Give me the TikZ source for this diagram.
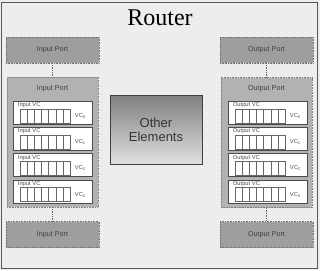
\documentclass[tikz,border=0pt]{standalone}
\usepackage{fontspec}
\setmainfont{Liberation Serif}
\setsansfont{Liberation Sans}
\begin{document}
\begin{tikzpicture}[x=1pt,y=-1pt,
  pfont/.style={font=\sffamily\fontsize{7.2}{8}\selectfont, text=black!75},
  port/.style={draw=black!55, densely dotted, line width=0.6pt, fill=black!38, inner sep=0pt,
    minimum width=93pt, minimum height=26pt, pfont},
  bigport/.style={draw=black!50, densely dotted, line width=0.6pt, fill=black!30, inner sep=0pt,
    minimum width=91pt, minimum height=130pt},
  vcbox/.style={draw=black!70, line width=0.6pt, fill=white, inner sep=0pt,
    minimum width=79pt, minimum height=23pt},
  cell/.style={draw=black!60, line width=0.4pt, fill=white},
  small/.style={font=\sffamily\fontsize{5.8}{6}\selectfont, text=black!70, inner sep=0pt},
  conn/.style={draw=black!60, densely dotted, line width=0.7pt}
]
\useasboundingbox (0,0) rectangle (320,270);
\fill[black!7] (0,0) rectangle (320,270);
\draw[black!65, line width=0.8pt] (1.5,2) rectangle (317.5,268.5);
\node[font=\fontsize{24}{26}\selectfont, inner sep=0pt] (title) at (160,18) {Router};

% input side
\node[port] (ipt) at (52.5,50) {Input Port};
\node[bigport] (ipb) at (52.5,142) {};
\node[port] (ipd) at (52.5,234.5) {Input Port};
\node[pfont, inner sep=0pt] (iplab) at (52.5,89) {Input Port};
\draw[conn] (ipt.south) -- (ipb.north);
\draw[conn] (ipb.south) -- (ipd.north);

% output side
\node[port] (opt) at (266.5,50) {Output Port};
\node[bigport] (opb) at (266.5,142.5) {};
\node[port] (opd) at (266.5,234.5) {Output Port};
\node[pfont, inner sep=0pt] (oplab) at (266.5,89) {Output Port};
\draw[conn] (opt.south) -- (opb.north);
\draw[conn] (opb.south) -- (opd.north);

% VC boxes
\foreach \i/\y in {0/112.5,1/138.8,2/165.1,3/191.4}{
  \foreach \side/\cx/\txt in {i/52.5/Input VC, o/267.5/Output VC}{
    \node[vcbox] (\side vc\i) at (\cx,\y) {};
    \node[small, anchor=north west] (\side vt\i) at ([xshift=5pt,yshift=-1.5pt]\side vc\i.north west) {\txt};
    \foreach \k in {0,...,6}{
      \draw[cell] ([xshift={7pt+\k*7.2pt},yshift=-8pt]\side vc\i.north west) rectangle ++(7.2,14);
    }
    \node[small, anchor=west] (\side vl\i) at ([xshift=62pt,yshift=-15pt]\side vc\i.north west) {VC\textsubscript{\i}};
  }
}

% other elements
\node[draw=black!75, line width=0.6pt, top color=black!50, bottom color=black!12, inner sep=0pt,
  minimum width=92pt, minimum height=69pt, align=center, text=black!80,
  font=\sffamily\fontsize{13}{14}\selectfont] (oe) at (156,129.5) {Other\\Elements};
\end{tikzpicture}
\end{document}
